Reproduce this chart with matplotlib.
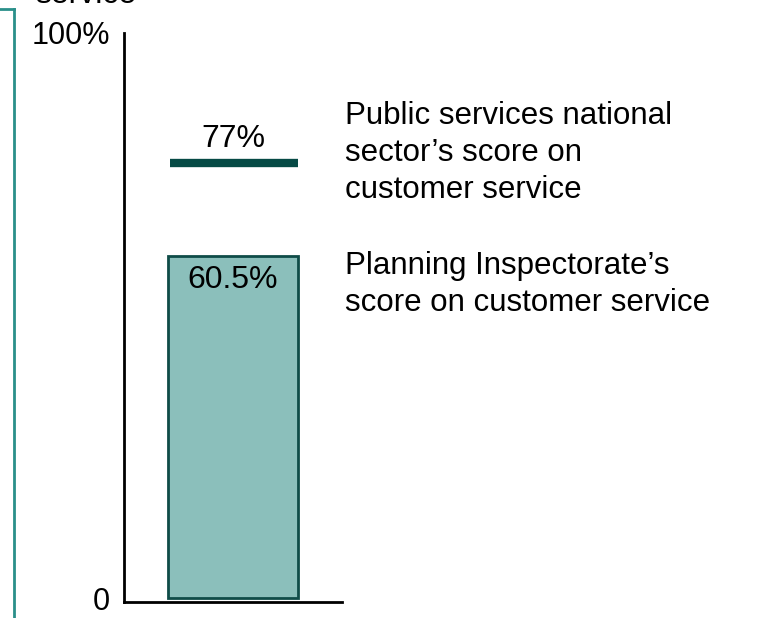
import matplotlib
matplotlib.use("Agg")
import matplotlib.pyplot as plt
from matplotlib.lines import Line2D

plt.rcParams['font.family'] = ['Liberation Sans', 'DejaVu Sans']

categories = ["Planning Inspectorate"]
pi_score = [60.5]
national_score = [77]
tick_values = [0, 100]
tick_labels = ["0", "100%"]
legend_national = "Public services national\nsector\u2019s score on\ncustomer service"
legend_pi = "Planning Inspectorate\u2019s\nscore on customer service"

W, H = 757, 618
fig = plt.figure(figsize=(W / 100, H / 100), dpi=100)

def fx(px):
    return px / W

def fy(py):
    return 1 - py / H

ax = fig.add_axes([fx(124), fy(602), fx(342) - fx(124), fy(33) - fy(602)])
ax.set_xlim(0, 1)
ax.set_ylim(-0.7, 100)

bar_color = "#8bbfbb"
edge_color = "#0f4c48"
line_color = "#064a45"

ax.bar([0.5], pi_score, width=0.596, bottom=0, color=bar_color,
       edgecolor=edge_color, linewidth=2)
ax.hlines(national_score, 0.21, 0.80, color=line_color, linewidth=6)

ax.text(0.5, pi_score[0] - 1.6, f"{pi_score[0]}%", ha='center', va='top', fontsize=23)
ax.text(0.5, national_score[0] + 1.6, f"{national_score[0]}%", ha='center', va='bottom', fontsize=23)

ax.set_yticks(tick_values)
ax.set_yticklabels(tick_labels, fontsize=22)
ax.tick_params(axis='y', length=0, pad=10)
ax.set_xticks([])
for s in ['top', 'right']:
    ax.spines[s].set_visible(False)
for s in ['left', 'bottom']:
    ax.spines[s].set_linewidth(2)
    ax.spines[s].set_color('black')

fig.text(fx(345), fy(101), legend_national, ha='left', va='top', fontsize=22.5, linespacing=1.3)
fig.text(fx(345), fy(251), legend_pi, ha='left', va='top', fontsize=22.5, linespacing=1.3)

# cut-off title fragment at top (as in the reference)
fig.text(fx(35), fy(3), "service", ha='left', va='baseline', fontsize=23)

# left teal border
border = "#2a8f8a"
fig.add_artist(Line2D([fx(0), fx(14)], [fy(9), fy(9)], color=border, linewidth=2))
fig.add_artist(Line2D([fx(14), fx(14)], [fy(9), fy(618)], color=border, linewidth=2))

fig.savefig("out.png", dpi=100)
